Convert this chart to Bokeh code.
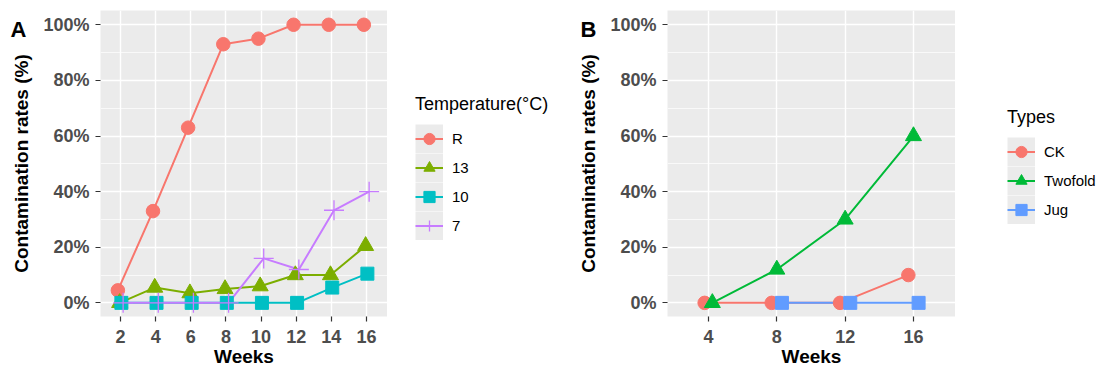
import math
from bokeh.plotting import figure
from bokeh.models import (Range1d, FixedTicker, PrintfTickFormatter, Legend,
                          LegendItem, Label)
from bokeh.layouts import row
from bokeh.embed import file_html
from bokeh.resources import INLINE

# ---------------- data ----------------
weeks_a = [2, 4, 6, 8, 10, 12, 14, 16]
temp_labels = ["R", "13", "10", "7"]
rate_R = [4.5, 33, 63, 93, 95, 100, 100, 100]
rate_13 = [0, 5.5, 3.5, 5, 6, 10, 10, 20.5]
rate_10 = [0, 0, 0, 0, 0, 0, 5.5, 10.5]
rate_7 = [0, 0, 0, 0, 16, 12, 33.3, 40]

weeks_b_ticks = [4, 8, 12, 16]
type_labels = ["CK", "Twofold", "Jug"]
ck_weeks = [4, 8, 12, 16]
ck_rate = [0, 0, 0, 10]
twofold_weeks = [4, 8, 12, 16]
twofold_rate = [0, 12, 30, 60]
jug_weeks = [8, 12, 16]
jug_rate = [0, 0, 0]

y_ticks = [0, 20, 40, 60, 80, 100]
y_minor = [10, 30, 50, 70, 90]

# ---------------- style ----------------
FONT = "Liberation Sans"
COLS_A = ["#F8766D", "#7CAE00", "#00BFC4", "#C77CFF"]
COLS_B = ["#F8766D", "#00BA38", "#619CFF"]
MARK_A = [("circle", 13.5, 1), ("triangle", 16, 1), ("square", 13, 1), ("cross", 20, 1.3)]
MARK_B = [("circle", 13.5, 1), ("triangle", 16, 1), ("square", 13, 1)]
KEY_BG = "#EBEBEB"
H = 370
FRAME_BOTTOM = 316   # frames of all figures in the row share top/bottom borders


def dodge(series_weeks, width):
    """ggplot-like position_dodge: spread the groups present at each x."""
    out = []
    for gi, ws in enumerate(series_weeks):
        xs = []
        for w in ws:
            present = [g for g, other in enumerate(series_weeks) if w in other]
            n = len(present)
            i = present.index(gi)
            xs.append(w + (i - (n - 1) / 2) * width / n)
        out.append(xs)
    return out


def blank_fig(width):
    f = figure(width=width, height=H, x_range=Range1d(0, 1), y_range=Range1d(0, 1),
               x_axis_location=None, y_axis_location=None,
               output_backend="svg", toolbar_location=None,
               min_border_left=0, min_border_right=0,
               min_border_top=0, min_border_bottom=0)
    f.title.text = ""
    f.grid.grid_line_color = None
    f.outline_line_color = None
    f.background_fill_color = "white"
    f.border_fill_color = "white"
    return f


def strip(width, tag, tag_x, title_x):
    """left strip with the panel tag and the y-axis title"""
    s = blank_fig(width)
    s.add_layout(Label(x=tag_x, y=FRAME_BOTTOM - 29, x_units="screen", y_units="screen",
                       text=tag, text_font=FONT, text_font_size="22px",
                       text_font_style="bold", text_color="black",
                       text_align="left", text_baseline="alphabetic"))
    s.add_layout(Label(x=title_x, y=FRAME_BOTTOM - 163, x_units="screen", y_units="screen",
                       angle=math.pi / 2, text="Contamination rates (%)",
                       text_font=FONT, text_font_size="19px",
                       text_font_style="bold", text_color="black",
                       text_align="center", text_baseline="alphabetic"))
    return s


def panel(width, b_left, xr, xticks):
    p = figure(width=width, height=H,
               x_range=Range1d(*xr), y_range=Range1d(-4.9, 105.13),
               output_backend="svg", toolbar_location=None,
               min_border_left=b_left, min_border_right=0,
               min_border_top=10, min_border_bottom=H - FRAME_BOTTOM)
    p.title.text = ""
    p.background_fill_color = "#EBEBEB"
    p.border_fill_color = "white"
    p.outline_line_color = None

    p.xaxis.ticker = FixedTicker(ticks=xticks)
    p.yaxis.ticker = FixedTicker(ticks=y_ticks, minor_ticks=y_minor)
    p.yaxis.formatter = PrintfTickFormatter(format="%d%%")
    for ax in (p.xaxis[0], p.yaxis[0]):
        ax.axis_line_color = None
        ax.major_tick_out = 5
        ax.major_tick_in = 0
        ax.major_tick_line_color = "#333333"
        ax.major_tick_line_width = 1.2
        ax.minor_tick_line_color = None
        ax.major_label_text_font = FONT
        ax.major_label_text_font_size = "18px"
        ax.major_label_text_font_style = "bold"
        ax.major_label_text_color = "#4D4D4D"
        ax.major_label_text_line_height = 1.0
        ax.axis_label_text_font = FONT
        ax.axis_label_text_font_size = "19px"
        ax.axis_label_text_font_style = "bold"
        ax.axis_label_text_color = "black"
        ax.axis_label_text_line_height = 1.0
    p.xaxis.axis_label = "Weeks"
    p.xaxis.major_label_standoff = 8
    p.xaxis.axis_label_standoff = 0
    p.yaxis.major_label_standoff = 6

    p.xgrid.grid_line_color = "white"
    p.xgrid.grid_line_width = 1.4
    p.ygrid.grid_line_color = "white"
    p.ygrid.grid_line_width = 1.4
    p.ygrid.minor_grid_line_color = "white"
    p.ygrid.minor_grid_line_width = 0.7
    return p


def draw_series(p, xs_list, ys_list, cols, marks):
    for xs, ys, c in zip(xs_list, ys_list, cols):
        p.line(xs, ys, line_color=c, line_width=2)
    for xs, ys, c, (m, sz, lw) in zip(xs_list, ys_list, cols, marks):
        p.scatter(xs, ys, marker=m, size=sz, fill_color=c, line_color=c, line_width=lw)


def legend_fig(width, title, labels, xs_list, ys_list, cols, marks, loc):
    """legend-only figure: proxy renderers carry the series (outside the
    visible 0..1 range, so only their legend glyphs show)."""
    f = blank_fig(width)
    bg = f.line(xs_list[0], ys_list[0], line_color=KEY_BG, line_width=29, line_cap="butt")
    items = []
    for lab, xs, ys, c, (m, sz, lw) in zip(labels, xs_list, ys_list, cols, marks):
        l = f.line(xs, ys, line_color=c, line_width=2)
        s = f.scatter(xs, ys, marker=m, size=sz, fill_color=c, line_color=c, line_width=lw)
        items.append(LegendItem(label=lab, renderers=[bg, l, s]))
    lg = Legend(items=items, location=loc)
    lg.title = title
    lg.title_text_font = FONT
    lg.title_text_font_size = "18px"
    lg.title_text_font_style = "normal"
    lg.title_text_color = "black"
    lg.title_standoff = 9
    lg.label_text_font = FONT
    lg.label_text_font_size = "15px"
    lg.label_text_color = "black"
    lg.glyph_width = 28
    lg.glyph_height = 29
    lg.label_height = 29
    lg.label_standoff = 9
    lg.spacing = 0
    lg.padding = 0
    lg.margin = 0
    lg.border_line_color = None
    lg.background_fill_alpha = 0
    f.add_layout(lg, "center")
    return f


# ---------------- panel A ----------------
series_a = [rate_R, rate_13, rate_10, rate_7]
xs_a = dodge([weeks_a] * 4, 0.4)
strip_a = strip(40, "A", 10, 21)
pa = panel(347, 60, (0.862, 17.195), weeks_a)
draw_series(pa, xs_a, series_a, COLS_A, MARK_A)
leg_a = legend_fig(189, "Temperature(°C)", temp_labels, xs_a, series_a,
                   COLS_A, MARK_A, (28, 76.5))

# ---------------- panel B ----------------
series_b = [ck_rate, twofold_rate, jug_rate]
xs_b = dodge([ck_weeks, twofold_weeks, jug_weeks], 0.9)
strip_b = strip(29, "B", 4, 12)
pb = panel(350, 62, (1.6, 18.46), weeks_b_ticks)
draw_series(pb, xs_b, series_b, COLS_B, MARK_B)
leg_b = legend_fig(149, "Types", type_labels, xs_b, series_b,
                   COLS_B, MARK_B, (52, 92.5))

layout = row(strip_a, pa, leg_a, strip_b, pb, leg_b)
open("out.html", "w").write(file_html(layout, INLINE))
